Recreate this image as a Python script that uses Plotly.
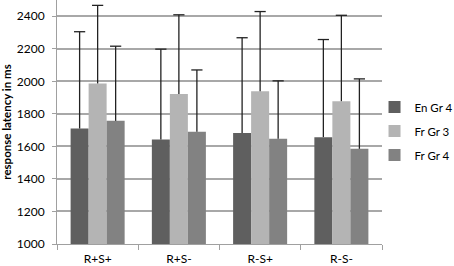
import plotly.graph_objects as go

categories = ["R+S+", "R+S-", "R-S+", "R-S-"]
series_names = ["En Gr 4", "Fr Gr 3", "Fr Gr 4"]
en_gr4 = [1710, 1643, 1683, 1657]
fr_gr3 = [1987, 1922, 1939, 1878]
fr_gr4 = [1757, 1690, 1647, 1585]
en_gr4_err = [595, 555, 585, 600]
fr_gr3_err = [480, 487, 490, 528]
fr_gr4_err = [459, 380, 356, 430]
tick_vals = [1000, 1200, 1400, 1600, 1800, 2000, 2200, 2400]

colors = ["#5f5f5f", "#b4b4b4", "#828282"]
values = [en_gr4, fr_gr3, fr_gr4]
errs = [en_gr4_err, fr_gr3_err, fr_gr4_err]
GAP = 0.335

fig = go.Figure()
for name, vals, col in zip(series_names, values, colors):
    fig.add_trace(go.Bar(
        x=categories, y=vals, name=name, legendgroup=name,
        marker=dict(color=col, line=dict(width=0)),
    ))
# error whiskers (upper only): one scatter per series, grouped like the bars
for name, vals, err in zip(series_names, values, errs):
    tops = [v + e for v, e in zip(vals, err)]
    fig.add_trace(go.Scatter(
        x=categories, y=tops, mode="markers", showlegend=False,
        legendgroup=name, hoverinfo="skip",
        marker=dict(symbol="line-ew", size=8, color="#222222",
                    line=dict(width=1.3, color="#222222")),
        error_y=dict(type="data", symmetric=False, array=[0] * len(err),
                     arrayminus=err, color="#222222", thickness=1.3, width=0),
    ))

fig.update_layout(
    width=454, height=266,
    margin=dict(l=57, r=72, t=0, b=22, autoexpand=False),
    paper_bgcolor="white", plot_bgcolor="white",
    barmode="group", bargap=GAP, bargroupgap=0,
    scattermode="group", scattergap=GAP,
    font=dict(family="Lato, Open Sans, sans-serif", size=12, color="#000000"),
    legend=dict(x=0.977, y=0.463, xanchor="left", yanchor="middle",
                font=dict(size=11.5), itemwidth=30, tracegroupgap=5,
                traceorder="grouped", bgcolor="rgba(0,0,0,0)"),
    showlegend=True,
)
fig.update_yaxes(
    range=[1000, 2500], tickvals=tick_vals, automargin=False,
    showgrid=True, gridcolor="#a8a8a8", gridwidth=1.5,
    showline=True, linecolor="#a0a0a0", linewidth=1,
    ticks="outside", ticklen=4, tickcolor="#a0a0a0",
    ticklabelstandoff=5,
    tickfont=dict(size=12),
    title=dict(text="<b>response latency in ms</b>", font=dict(size=11.5), standoff=6),
    zeroline=False,
)
fig.update_xaxes(
    automargin=False,
    showline=True, linecolor="#a0a0a0", linewidth=1,
    ticks="outside", ticklen=5, tickcolor="#a0a0a0", tickson="boundaries",
    tickfont=dict(size=12),
    ticklabelstandoff=4,
)

fig.write_html(
    "out.html",
    config={"displayModeBar": False},
    post_script="document.body.style.margin='0';document.body.style.overflow='hidden';",
)
